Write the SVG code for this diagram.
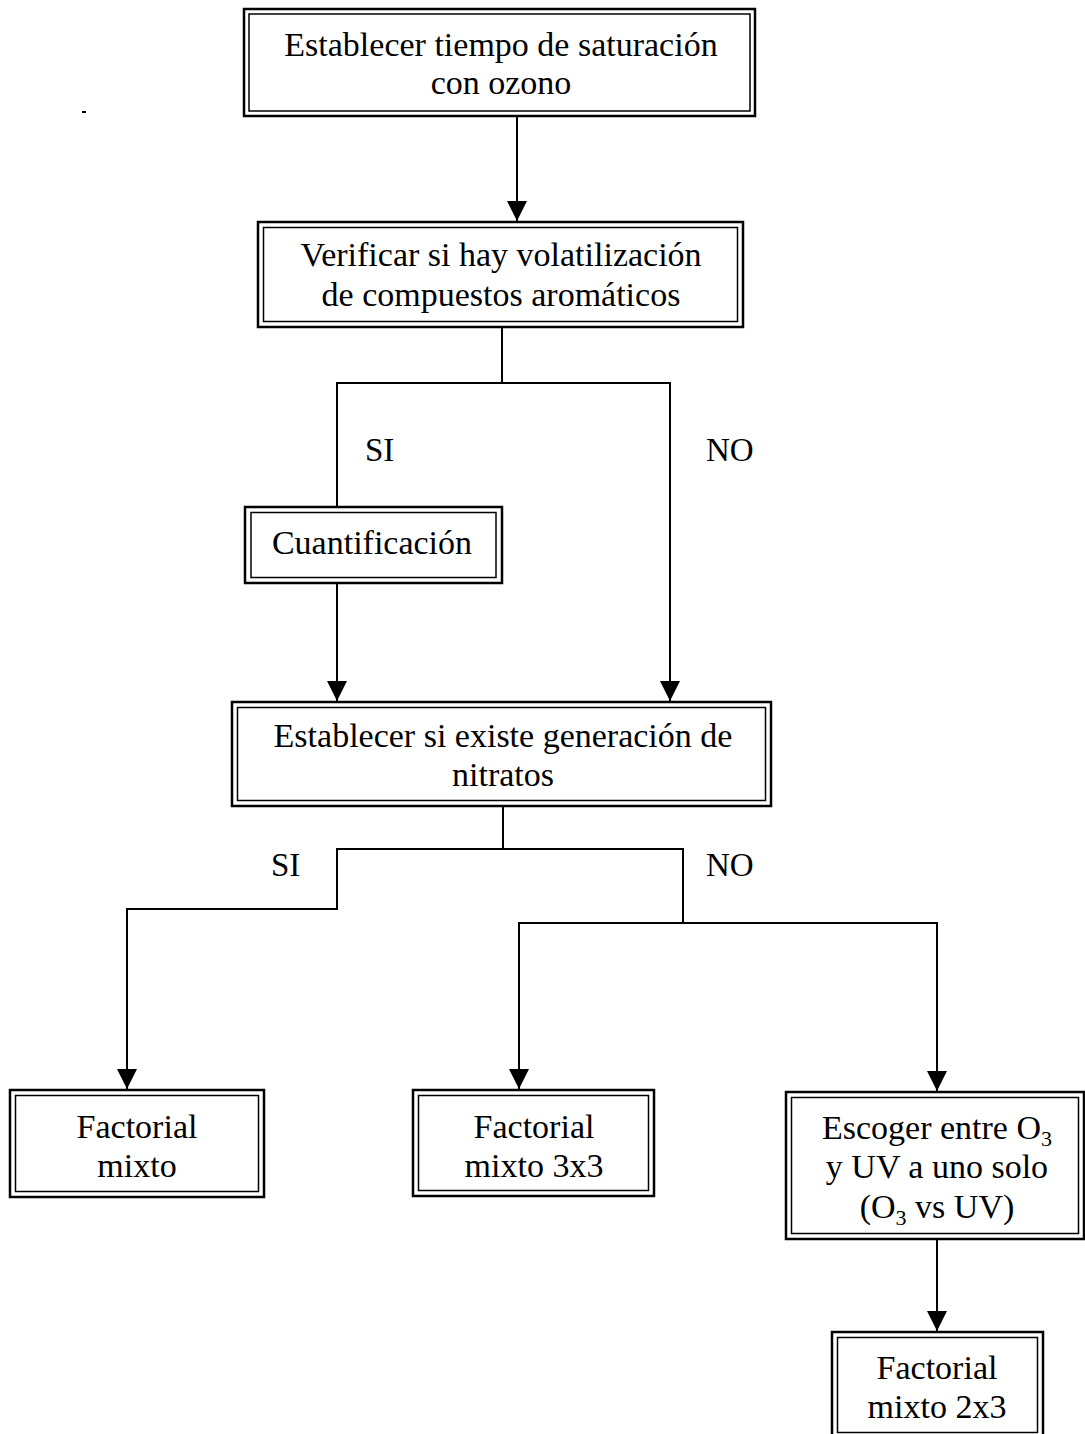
<svg xmlns="http://www.w3.org/2000/svg" width="1085" height="1434" viewBox="0 0 1085 1434">
<style>
.o{fill:#fff;stroke:#000;stroke-width:2.5}
.i{fill:none;stroke:#000;stroke-width:1.5}
.t{font-family:"Liberation Serif","Times New Roman",serif;font-size:34px;fill:#000;text-anchor:middle}
.l{font-family:"Liberation Serif","Times New Roman",serif;font-size:33px;fill:#000}
.c{fill:none;stroke:#000;stroke-width:2}
</style>
<defs>
<marker id="a" viewBox="0 0 20 20" refX="10" refY="20" markerWidth="20" markerHeight="20" markerUnits="userSpaceOnUse" orient="0">
<path d="M0,0 L20,0 L10,20 Z" fill="#000"/>
</marker>
</defs>
<rect x="82" y="111" width="4" height="2" fill="#000"/>
<g id="connectors">
<line class="c" x1="517" y1="117" x2="517" y2="221" marker-end="url(#a)"/>
<polyline class="c" points="502,327 502,383 337,383 337,507"/>
<polyline class="c" points="502,383 670,383 670,701" marker-end="url(#a)"/>
<line class="c" x1="337" y1="583" x2="337" y2="701" marker-end="url(#a)"/>
<polyline class="c" points="503,806 503,849 337,849 337,909 127,909 127,1089" marker-end="url(#a)"/>
<polyline class="c" points="503,849 683,849 683,923 519,923 519,1089" marker-end="url(#a)"/>
<polyline class="c" points="683,923 937,923 937,1091" marker-end="url(#a)"/>
<line class="c" x1="937" y1="1240" x2="937" y2="1331" marker-end="url(#a)"/>
<text class="l" x="365" y="461">SI</text>
<text class="l" x="706" y="461">NO</text>
<text class="l" x="271" y="876">SI</text>
<text class="l" x="706" y="876">NO</text>
</g>
<g id="n1">
<rect class="o" x="244" y="9" width="511" height="107"/>
<rect class="i" x="249" y="14" width="501" height="97"/>
<text class="t" x="501" y="56">Establecer tiempo de saturación</text>
<text class="t" x="501" y="94">con ozono</text>
</g>
<g id="n2">
<rect class="o" x="258" y="222" width="485" height="105"/>
<rect class="i" x="263.5" y="227.5" width="474" height="94"/>
<text class="t" x="501" y="266">Verificar si hay volatilización</text>
<text class="t" x="501" y="306">de compuestos aromáticos</text>
</g>
<g id="n3">
<rect class="o" x="245" y="507" width="257" height="76"/>
<rect class="i" x="251" y="512.5" width="245" height="65"/>
<text class="t" x="372" y="554">Cuantificación</text>
</g>
<g id="n4">
<rect class="o" x="232" y="702" width="539" height="104"/>
<rect class="i" x="237.5" y="707.5" width="528" height="93"/>
<text class="t" x="503" y="747">Establecer si existe generación de</text>
<text class="t" x="503" y="786">nitratos</text>
</g>
<g id="n5">
<rect class="o" x="10" y="1090" width="254" height="107"/>
<rect class="i" x="15.5" y="1095.5" width="243" height="96"/>
<text class="t" x="137" y="1138">Factorial</text>
<text class="t" x="137" y="1177">mixto</text>
</g>
<g id="n6">
<rect class="o" x="413" y="1090" width="241" height="106"/>
<rect class="i" x="418.5" y="1095.5" width="230" height="95"/>
<text class="t" x="534" y="1138">Factorial</text>
<text class="t" x="534" y="1177">mixto 3x3</text>
</g>
<g id="n7">
<rect class="o" x="786" y="1092" width="298" height="147"/>
<rect class="i" x="791.5" y="1097.5" width="287" height="136"/>
<text class="t" x="937" y="1139">Escoger entre O<tspan font-size="22" dy="7">3</tspan></text>
<text class="t" x="937" y="1178">y UV a uno solo</text>
<text class="t" x="937" y="1218">(O<tspan font-size="22" dy="7">3</tspan><tspan dy="-7"> vs UV)</tspan></text>
</g>
<g id="n8">
<rect class="o" x="832" y="1332" width="211" height="106"/>
<rect class="i" x="837.5" y="1337.5" width="200" height="95"/>
<text class="t" x="937" y="1379">Factorial</text>
<text class="t" x="937" y="1418">mixto 2x3</text>
</g>
</svg>
